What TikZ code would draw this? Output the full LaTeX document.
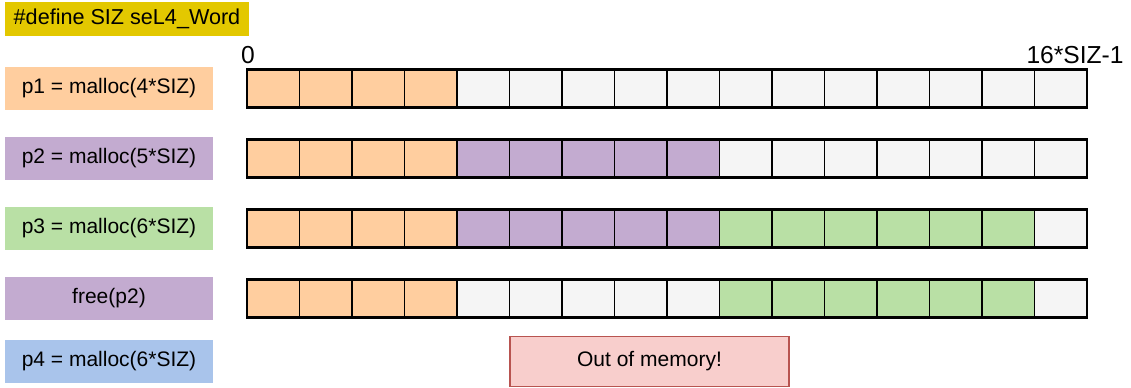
\documentclass[tikz,border=0pt]{standalone}
\usepackage{fontspec}
\setmainfont{Liberation Sans}
\usepackage{xcolor}
\usepackage{tikz}
\definecolor{cellO}{HTML}{FFCE9F}
\definecolor{cellP}{HTML}{C3ABD0}
\definecolor{cellG}{HTML}{B9E0A5}
\definecolor{cellF}{HTML}{F5F5F5}
\definecolor{lblblue}{HTML}{A9C4EB}
\definecolor{defyellow}{HTML}{E3C800}
\definecolor{oomfill}{HTML}{F8CECC}
\definecolor{oomline}{HTML}{B85450}

\begin{document}
\begin{tikzpicture}[x=0.5pt, y=-0.5pt,
  etiq/.style={minimum width=104pt, minimum height=21.5pt, inner sep=0pt,
               font=\fontsize{10.5}{12}\selectfont},
  celda/.style={draw=black, line width=0.7pt, minimum width=26.25pt, minimum height=19pt,
                inner sep=0pt, outer sep=0pt},
  borde/.style={draw=black, line width=1.4pt},
  num/.style={inner sep=0pt, font=\fontsize{12.3}{14}\selectfont}]
\useasboundingbox (0,0) rectangle (1131,387);
\node[minimum width=122pt, minimum height=17pt, inner sep=0pt, fill=defyellow,
      font=\fontsize{10.8}{13}\selectfont] (def) at (127,19) {\#define SIZ seL4\_Word};
\node[etiq, fill=cellO] (l1) at (109,88.5)  {p1 = malloc(4*SIZ)};
\node[etiq, fill=cellP] (l2) at (109,158.5) {p2 = malloc(5*SIZ)};
\node[etiq, fill=cellG] (l3) at (109,228.5) {p3 = malloc(6*SIZ)};
\node[etiq, fill=cellP] (l4) at (109,298.5) {free(p2)};
\node[etiq, fill=lblblue] (l5) at (109,361.5) {p4 = malloc(6*SIZ)};
\foreach \r/\yy/\cells in {
    1/88.5/{O,O,O,O,F,F,F,F,F,F,F,F,F,F,F,F},
    2/158.5/{O,O,O,O,P,P,P,P,P,F,F,F,F,F,F,F},
    3/228.5/{O,O,O,O,P,P,P,P,P,G,G,G,G,G,G,F},
    4/298.5/{O,O,O,O,F,F,F,F,F,G,G,G,G,G,G,F}} {
  \foreach \c [count=\i] in \cells
    \node[celda, fill=cell\c] (r\r-\i) at ({247+52.5*(\i-0.5)},\yy) {};
  \draw[borde] (r\r-1.south west) rectangle (r\r-16.north east);
}
\node[num] (ini) at (248,55) {0};
\node[num, anchor=east] (fin) at (1124,55) {16*SIZ-1};
\node[draw=oomline, line width=0.6pt, fill=oomfill, minimum width=139.5pt, minimum height=25pt,
      inner sep=0pt, font=\fontsize{10.5}{12}\selectfont] (oom) at (649.5,361.5) {Out of memory!};
\end{tikzpicture}
\end{document}
